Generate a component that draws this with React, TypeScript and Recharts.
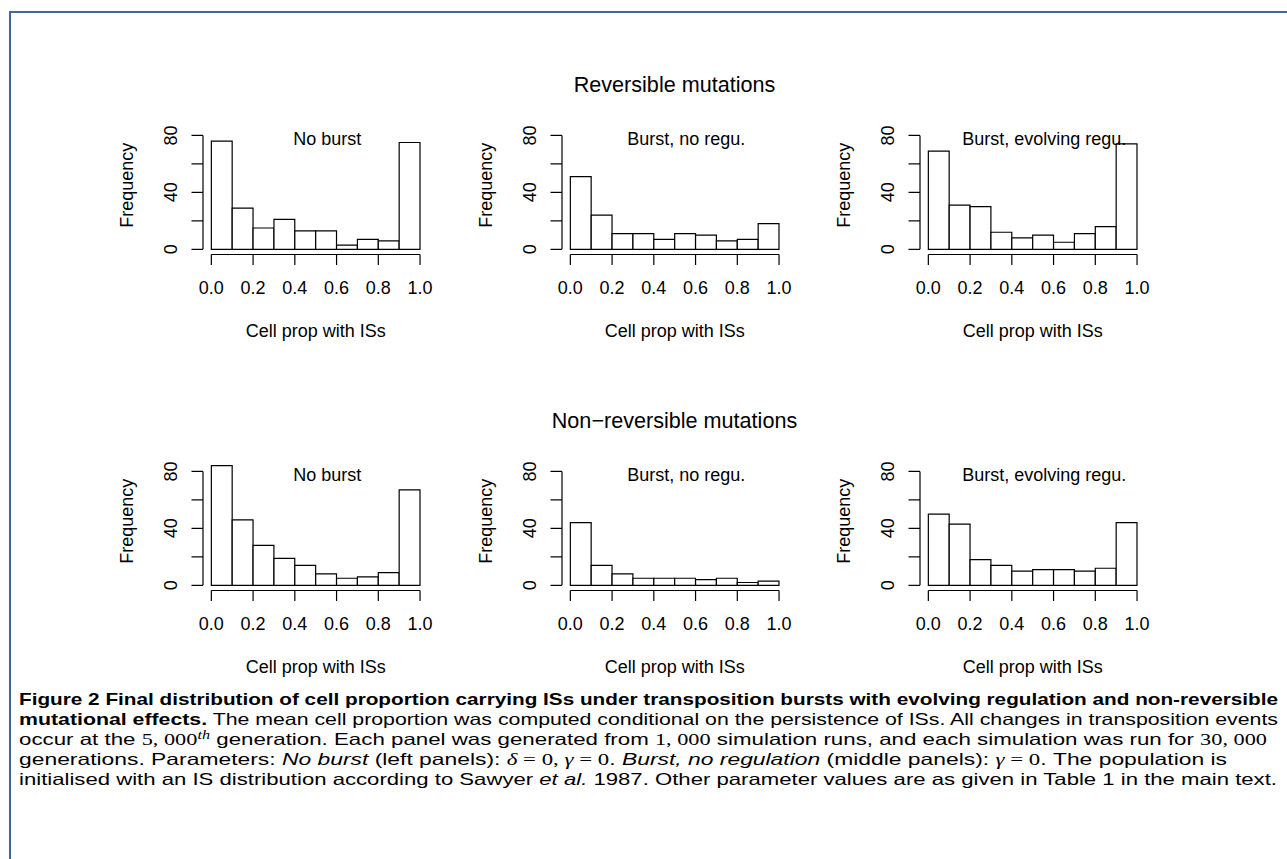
import React from 'react';
import { BarChart, Bar, XAxis, YAxis, ReferenceLine } from 'recharts';

// histogram bins (cell proportion with ISs), 10 bins of width 0.1
const binMids = [0.05, 0.15, 0.25, 0.35, 0.45, 0.55, 0.65, 0.75, 0.85, 0.95];
const xTicks = [0, 0.2, 0.4, 0.6, 0.8, 1];
const yTicks = [0, 20, 40, 60, 80];
// R drops the 20 / 60 labels (they would overlap), only the tick marks stay
const yTickLabels = [0, 40, 80];

// counts
const revNoBurst = [76, 29, 15, 21, 13, 13, 3, 7, 6, 75];
const revBurstNoRegu = [51, 24, 11, 11, 7, 11, 10, 6, 7, 18];
const revBurstEvolving = [69, 31, 30, 12, 8, 10, 5, 11, 16, 74];
const nonRevNoBurst = [84, 46, 28, 19, 14, 8, 5, 6, 9, 67];
const nonRevBurstNoRegu = [44, 14, 8, 5, 5, 5, 4, 5, 2, 3];
const nonRevBurstEvolving = [50, 43, 18, 14, 10, 11, 11, 10, 12, 44];

const panelTitles = ['No burst', 'Burst, no regu.', 'Burst, evolving regu.'];
const rowTitles = ['Reversible mutations', 'Non\u2212reversible mutations'];
const rows = [
  [revNoBurst, revBurstNoRegu, revBurstEvolving],
  [nonRevNoBurst, nonRevBurstNoRegu, nonRevBurstEvolving],
];

const FONT = '"Liberation Sans", Arial, Helvetica, sans-serif';
const SERIF = '"Liberation Serif", "DejaVu Serif", serif';

// panel geometry (px)
const UNIT = 208.7; // 1.0 on the x scale
const PW = UNIT * 1.08;
const PH = 138.5;
const PL = 100;
const PT = 40;
const PR = 30;
const PB = 100;
const CW = PL + PW + PR;
const CH = PT + PH + PB;
const X0 = 203.35;
const Y0 = 116.0;
const COL = 358.3;
const ROW = 335.8;

const XTick = (props: any) => {
  const { x, y, payload } = props;
  return (
    <text x={x} y={y + 28.8} textAnchor="middle" fontFamily={FONT} fontSize={18} fill="#000">
      {Number(payload.value).toFixed(1)}
    </text>
  );
};

const YTick = (props: any) => {
  const { x, y, payload } = props;
  if (!yTickLabels.includes(payload.value)) return <g />;
  return (
    <text transform={`translate(${x - 14.5},${y}) rotate(-90)`} textAnchor="middle" fontFamily={FONT} fontSize={18} fill="#000">
      {payload.value}
    </text>
  );
};

const Panel = ({ counts, title, left, top }: { counts: number[]; title: string; left: number; top: number }) => {
  const data = binMids.map((mid, i) => ({ mid, count: counts[i] }));
  const line = { stroke: '#000', strokeWidth: 1.2 };
  return (
    <div style={{ position: 'absolute', left, top, width: CW, height: CH }}>
      <BarChart width={CW} height={CH} data={data} margin={{ top: PT, right: PR, bottom: 0, left: 0 }} barGap={0} barCategoryGap={0}>
        <XAxis dataKey="mid" type="number" domain={[-0.04, 1.04]} allowDataOverflow ticks={xTicks} interval={0}
          axisLine={false} tickLine={line} stroke="#000" tickSize={10.5} tickMargin={0} tick={XTick} height={PB} />
        <YAxis type="number" domain={[-3.6, 93.6]} allowDataOverflow ticks={yTicks} interval={0}
          axisLine={false} tickLine={line} stroke="#000" tickSize={11.5} tickMargin={0} tick={YTick} width={PL} />
        <ReferenceLine segment={[{ x: 0, y: -3.6 }, { x: 1, y: -3.6 }]} stroke="#000" strokeWidth={1.2} ifOverflow="visible" />
        <ReferenceLine segment={[{ x: -0.04, y: 0 }, { x: -0.04, y: 80 }]} stroke="#000" strokeWidth={1.2} ifOverflow="visible" />
        <Bar dataKey="count" fill="#fff" stroke="#000" strokeWidth={1.2} barSize={UNIT * 0.1 - 0.05} isAnimationActive={false} />
      </BarChart>
      <svg width={CW} height={CH} style={{ position: 'absolute', left: 0, top: 0, pointerEvents: 'none', overflow: 'visible' }}
        fontFamily={FONT} fontSize={18} fill="#000">
        <text x={PL + (0.555 + 0.04) * UNIT} y={PT + 29.4} textAnchor="middle">{title}</text>
        <text transform={`translate(${PL - 70},${PT + PH / 2}) rotate(-90)`} textAnchor="middle">Frequency</text>
        <text x={PL + PW / 2} y={PT + PH + 82.5} textAnchor="middle">Cell prop with ISs</text>
      </svg>
    </div>
  );
};

const App = () => {
  return (
    <div style={{ position: 'absolute', left: 0, top: 0, width: 1287, height: 859, background: '#fff', overflow: 'hidden' }}>
      <div style={{ position: 'absolute', left: 9, top: 11, right: -4, bottom: -4, borderTop: '2px solid #46679b', borderLeft: '2px solid #46679b' }} />
      <svg width={1287} height={859} style={{ position: 'absolute', left: 0, top: 0 }}>
        {rowTitles.map((t, r) => (
          <text key={t} x={674.5} y={92 + r * ROW} textAnchor="middle" fontFamily={FONT} fontSize={21.6} fill="#000">{t}</text>
        ))}
        <g fontFamily={FONT} fontSize={16.5} fill="#000">
          <text x={19} y={705} textLength={1259} lengthAdjust="spacingAndGlyphs" fontWeight="bold">
            Figure 2 Final distribution of cell proportion carrying ISs under transposition bursts with evolving regulation and non-reversible
          </text>
          <text x={19} y={725} textLength={1259} lengthAdjust="spacingAndGlyphs">
            <tspan fontWeight="bold">mutational effects.</tspan> The mean cell proportion was computed conditional on the persistence of ISs. All changes in transposition events
          </text>
          <text x={19} y={745} textLength={1248} lengthAdjust="spacingAndGlyphs">
            occur at the <tspan fontFamily={SERIF}>5, 000</tspan><tspan fontFamily={SERIF} fontStyle="italic" fontSize={12} dy={-6}>th</tspan><tspan dy={6}> generation. Each panel was generated from </tspan><tspan fontFamily={SERIF}>1, 000</tspan> simulation runs, and each simulation was run for <tspan fontFamily={SERIF}>30, 000</tspan>
          </text>
          <text x={19} y={765} textLength={1208} lengthAdjust="spacingAndGlyphs">
            generations. Parameters: <tspan fontStyle="italic">No burst</tspan> (left panels): <tspan fontFamily={SERIF} fontStyle="italic">δ</tspan><tspan fontFamily={SERIF}> = 0, </tspan><tspan fontFamily={SERIF} fontStyle="italic">γ</tspan><tspan fontFamily={SERIF}> = 0</tspan>. <tspan fontStyle="italic">Burst, no regulation</tspan> (middle panels): <tspan fontFamily={SERIF} fontStyle="italic">γ</tspan><tspan fontFamily={SERIF}> = 0</tspan>. The population is
          </text>
          <text x={19} y={785} textLength={1258} lengthAdjust="spacingAndGlyphs">
            initialised with an IS distribution according to Sawyer <tspan fontStyle="italic">et al.</tspan> 1987. Other parameter values are as given in Table 1 in the main text.
          </text>
        </g>
      </svg>
      {rows.map((row, r) =>
        row.map((counts, c) => (
          <Panel key={`${r}-${c}`} counts={counts} title={panelTitles[c]} left={X0 + c * COL - PL} top={Y0 + r * ROW - PT} />
        ))
      )}
    </div>
  );
};

export default App;
